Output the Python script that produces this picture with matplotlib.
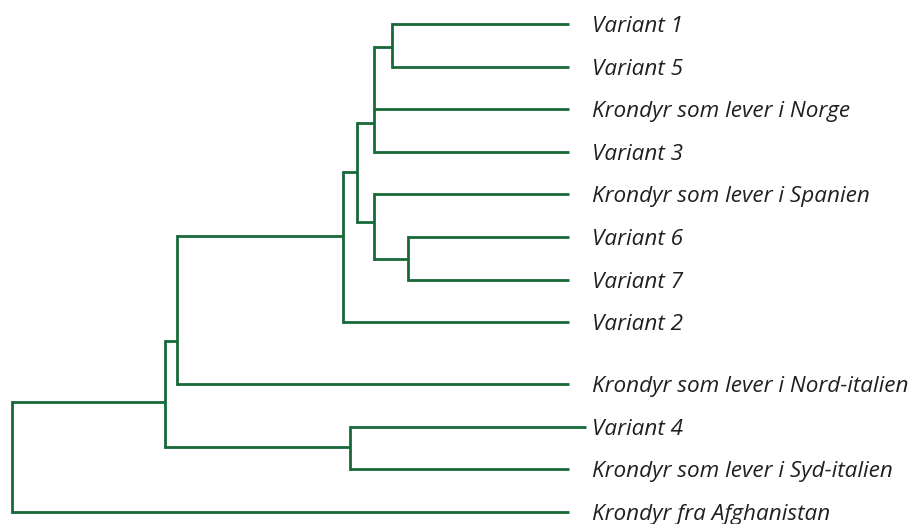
import matplotlib
matplotlib.use("Agg")
import matplotlib.pyplot as plt

# Leaves (top to bottom), their vertical slot and tip depth
leaf_labels = ["Variant 1", "Variant 5", "Krondyr som lever i Norge", "Variant 3",
               "Krondyr som lever i Spanien", "Variant 6", "Variant 7", "Variant 2",
               "Krondyr som lever i Nord-italien", "Variant 4",
               "Krondyr som lever i Syd-italien", "Krondyr fra Afghanistan"]
leaf_slot = [0, 1, 2, 3, 4, 5, 6, 7, 8.45, 9.46, 10.45, 11.46]
leaf_depth = [100, 100, 100, 100, 100, 100, 100, 100, 100, 103.1, 100, 100]

# Internal nodes: name -> (children, depth, slot where it joins its parent)
node_names = ["A", "B", "C", "D", "E", "F", "G", "I", "H", "R"]
node_children = [["Variant 1", "Variant 5"],
                 ["A", "Krondyr som lever i Norge", "Variant 3"],
                 ["Variant 6", "Variant 7"],
                 ["Krondyr som lever i Spanien", "C"],
                 ["B", "D"],
                 ["E", "Variant 2"],
                 ["F", "Krondyr som lever i Nord-italien"],
                 ["Variant 4", "Krondyr som lever i Syd-italien"],
                 ["G", "I"],
                 ["H", "Krondyr fra Afghanistan"]]
node_depth = [68.2, 65.0, 71.1, 65.0, 61.9, 59.4, 29.6, 60.7, 27.5, 0.0]
node_slot = [0.53, 2.32, 5.52, 4.65, 3.47, 4.97, 7.44, 9.92, 8.87, 10.2]

GREEN = "#17693a"
TEXT = "#231f20"

fig = plt.figure(figsize=(9.11, 5.24), dpi=100)
ax = fig.add_axes([0, 0, 1, 1])
ax.set_xlim(-2.15, 161.4)
ax.set_ylim(11.737, -0.563)
ax.axis("off")

pos = {}
for lab, s, d in zip(leaf_labels, leaf_slot, leaf_depth):
    pos[lab] = (d, s)
for n, d, s in zip(node_names, node_depth, node_slot):
    pos[n] = (d, s)

lw = 2.0
for n, ch in zip(node_names, node_children):
    nd, _ = pos[n]
    ys = [pos[c][1] for c in ch]
    ax.plot([nd, nd], [min(ys), max(ys)], color=GREEN, lw=lw, solid_capstyle="projecting")
    for c in ch:
        cd, cy = pos[c]
        ax.plot([nd, cd], [cy, cy], color=GREEN, lw=lw, solid_capstyle="butt")

for lab, s in zip(leaf_labels, leaf_slot):
    ax.text(104.1, s, lab, fontsize=16.2, style="italic", color=TEXT,
            va="center_baseline", ha="left", family="Open Sans")

fig.savefig("out.png", dpi=100)
